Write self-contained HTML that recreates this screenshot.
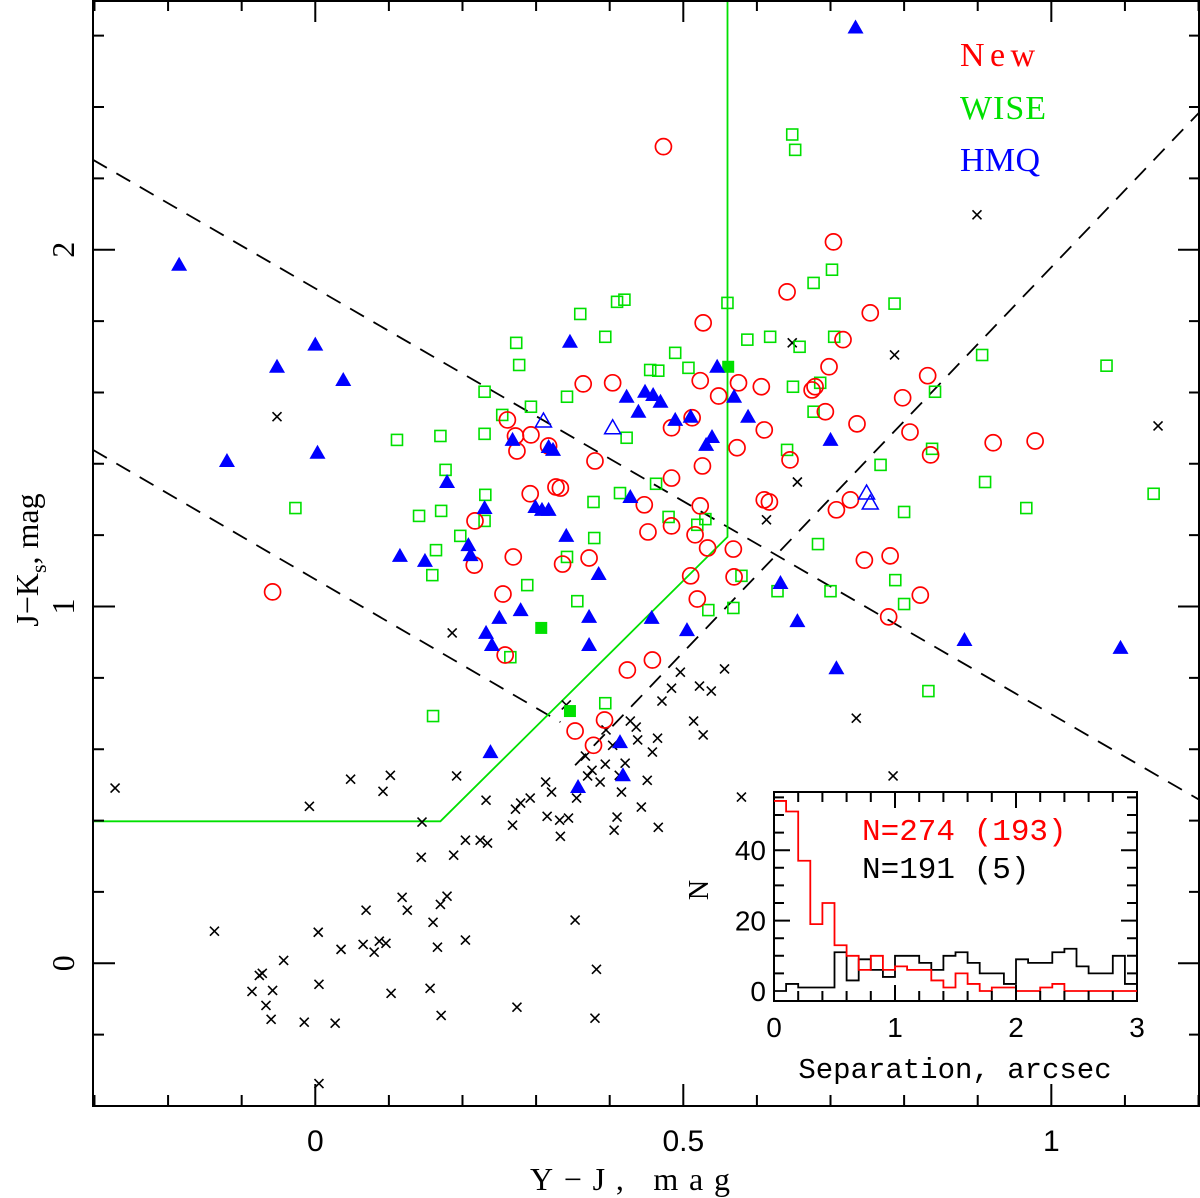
<!DOCTYPE html>
<html><head><meta charset="utf-8"><style>
html,body{margin:0;padding:0;background:#fff}
svg{display:block;font-family:"Liberation Serif",serif}
</style></head><body>
<svg id="chart" width="1200" height="1198" viewBox="0 0 1200 1198" xmlns="http://www.w3.org/2000/svg">
<g id="lines"></g>
<g id="marks"></g>
<g id="axes"></g>
<g id="inset"></g>
<text x="960" y="66" font-size="34" fill="#ff0000" textLength="75">New</text>
<text x="960" y="119" font-size="34" fill="#00e000" textLength="86">WISE</text>
<text x="960" y="171" font-size="34" fill="#0000ff" textLength="80">HMQ</text>
<text x="630" y="1190" font-size="32" text-anchor="middle" textLength="200">Y−J, mag</text>
<text transform="translate(38,560) rotate(-90)" font-size="32" text-anchor="middle">J−K<tspan font-size="22" dy="8">s</tspan><tspan dy="-8">, mag</tspan></text>
</svg>
<script>
const NS="http://www.w3.org/2000/svg";
// main axes
const xTickLabels=["0","0.5","1"], xTickVals=[0,0.5,1];
const yTickLabels=["0","1","2"], yTickVals=[0,1,2];
const hmqX=[0.734,-0.185,0,-0.052,0.038,0.003,-0.12,0.115,0.149,0.346,0.208,0.211,0.179,0.23,0.268,0.308,0.299,0.317,0.317,0.323,0.341,0.385,0.25,0.232,0.24,0.279,0.372,0.372,0.423,0.439,0.448,0.459,0.469,0.489,0.51,0.531,0.539,0.546,0.569,0.588,0.428,0.457,0.505,0.632,0.655,0.708,0.70,0.882,1.094,0.238,0.414,0.418,0.357];
const hmqY=[2.623,1.958,1.734,1.672,1.635,1.431,1.408,1.142,1.128,1.742,1.172,1.144,1.349,1.276,1.467,1.271,1.279,1.271,1.447,1.439,1.198,1.091,0.968,0.926,0.892,0.99,0.971,0.892,1.588,1.546,1.602,1.593,1.574,1.523,1.532,1.453,1.475,1.672,1.588,1.532,1.307,0.968,0.934,1.066,0.959,0.827,1.467,0.906,0.884,0.592,0.62,0.527,0.494];
const hmqOpenX=[0.31,0.404,0.749,0.754];
const hmqOpenY=[1.52,1.501,1.318,1.29];
const wiseFillX=[0.561,0.307,0.346];
const wiseFillY=[1.672,0.94,0.707];
const newX=[0.473,-0.058,0.704,0.527,0.641,0.754,0.717,0.698,0.679,0.693,0.736,0.675,0.832,0.798,0.808,0.836,0.921,0.978,0.364,0.404,0.575,0.606,0.573,0.548,0.523,0.61,0.645,0.512,0.484,0.484,0.447,0.484,0.452,0.526,0.523,0.516,0.327,0.333,0.317,0.272,0.293,0.292,0.274,0.261,0.217,0.216,0.269,0.336,0.372,0.38,0.255,0.258,0.51,0.533,0.568,0.569,0.61,0.617,0.708,0.727,0.746,0.781,0.779,0.822,0.519,0.424,0.458,0.393,0.378,0.353];
const newY=[2.289,1.041,2.022,1.795,1.882,1.823,1.748,1.672,1.616,1.546,1.512,1.607,1.647,1.585,1.489,1.425,1.459,1.464,1.624,1.627,1.627,1.616,1.445,1.59,1.633,1.495,1.411,1.529,1.501,1.36,1.285,1.226,1.209,1.394,1.282,1.201,1.335,1.332,1.45,1.478,1.481,1.316,1.436,1.523,1.24,1.116,1.139,1.119,1.136,1.408,1.035,0.864,1.086,1.164,1.161,1.083,1.299,1.293,1.271,1.299,1.13,1.142,0.971,1.032,1.021,0.822,0.85,0.682,0.611,0.651];
const wiseX=[0.648,0.652,0.36,0.41,0.42,0.394,0.273,0.277,0.23,0.254,0.293,0.342,0.23,0.111,0.17,0.177,0.423,0.455,0.489,0.466,0.507,0.56,0.587,0.618,0.658,0.677,0.702,0.787,0.906,1.075,0.705,0.686,0.649,0.677,0.842,0.768,0.80,0.838,0.91,0.966,1.139,0.683,0.70,0.788,0.80,0.833,0.641,0.378,0.379,0.342,0.356,0.394,0.414,0.463,0.48,0.519,0.53,0.534,0.579,0.568,0.231,0.23,0.197,0.171,0.141,0.164,0.159,0.288,-0.027,0.16,0.265,0.628];
const wiseY=[2.323,2.28,1.82,1.854,1.86,1.756,1.739,1.677,1.602,1.537,1.56,1.588,1.484,1.467,1.478,1.383,1.473,1.663,1.711,1.661,1.669,1.851,1.748,1.756,1.728,1.907,1.944,1.849,1.705,1.675,1.756,1.627,1.616,1.546,1.602,1.397,1.265,1.442,1.349,1.276,1.316,1.175,1.043,1.074,1.007,0.763,1.439,1.293,1.192,1.139,1.015,0.729,1.318,1.344,1.251,1.229,1.245,0.99,1.086,0.996,1.313,1.24,1.198,1.268,1.254,1.158,1.088,1.06,1.276,0.693,0.858,1.043];
const crossX=[-0.052,-0.272,-0.008,0.048,0.186,0.192,0.232,0.272,0.268,0.279,0.313,0.321,0.315,0.333,0.332,0.344,0.355,0.37,0.376,0.387,0.394,0.404,0.413,0.416,0.41,0.406,0.421,0.428,0.438,0.443,0.451,0.458,0.465,0.466,0.471,0.484,0.496,0.514,0.522,0.527,0.538,0.556,0.436,0.395,0.341,0.367,0.292,0.224,0.234,0.188,0.204,0.144,0.145,0.118,0.125,0.17,0.179,0.204,0.16,0.166,0.171,0.156,0.096,0.103,0.087,0.08,0.069,0.065,0.035,0.004,0.005,0.005,-0.015,-0.043,-0.072,-0.076,-0.058,-0.067,-0.06,-0.086,0.027,-0.137,0.274,0.353,0.382,0.38,0.899,0.787,0.648,0.655,0.613,0.735,0.785,0.579,1.145,0.092,0.102];
const crossY=[1.532,0.491,0.44,0.516,0.926,0.525,0.457,0.432,0.387,0.449,0.508,0.48,0.412,0.356,0.401,0.407,0.463,0.525,0.541,0.508,0.558,0.611,0.527,0.48,0.41,0.373,0.561,0.679,0.626,0.438,0.513,0.592,0.631,0.381,0.735,0.771,0.816,0.679,0.777,0.64,0.763,0.825,0.662,0.654,0.724,0.581,0.463,0.345,0.337,0.303,0.345,0.297,0.396,0.185,0.149,0.165,0.188,0.065,0.115,0.045,-0.146,-0.07,0.056,-0.084,0.062,0.031,0.149,0.053,0.039,0.087,-0.059,-0.337,-0.165,0.008,-0.028,-0.034,-0.076,-0.118,-0.157,-0.079,-0.168,0.09,-0.123,0.121,-0.017,-0.154,2.098,1.705,1.739,1.349,1.243,0.687,0.525,0.466,1.506,0.482,0.527];
// inset histogram
const binEdgesStart=0, binWidth=0.1;
const redCounts=[54,51,37,19,25,13,10,6,10,6,7,6,6,3,1,5,2,0,1,1,0,0,1,2,0,0,0,0,0,0];
const blackCounts=[0,2,1,1,1,11,3,9,6,4,10,10,8,6,10,11,8,5,5,2,9,8,8,11,12,7,5,5,10,2];
const insetXTickLabels=["0","1","2","3"], insetXTickVals=[0,1,2,3];
const insetYTickLabels=["0","20","40"], insetYTickVals=[0,20,40];

const X0=93,X1=1200,Y0=0,Y1=1106;
const xmin=-0.302,xmax=1.202,ymin=-0.40,ymax=2.70;
const sx=v=>X0+(v-xmin)/(xmax-xmin)*(X1-X0);
const sy=v=>Y1-(v-ymin)/(ymax-ymin)*(Y1-Y0);
function el(tag,attrs,parent){const e=document.createElementNS(NS,tag);for(const k in attrs)e.setAttribute(k,attrs[k]);parent.appendChild(e);return e;}
const lines=document.getElementById('lines'),marks=document.getElementById('marks'),axes=document.getElementById('axes'),inset=document.getElementById('inset');
function poly(pts,stroke,dash,name){const d=pts.map((p,i)=>(i?'L':'M')+sx(p[0]).toFixed(1)+' '+sy(p[1]).toFixed(1)).join(' ');
 const p=el('path',{d:d,fill:'none',stroke:stroke,'stroke-width':1.8,'stroke-dasharray':dash||'none'},lines);
 
 }
poly([[-0.302,2.252],[1.202,0.457]],'#000','16 11','dashed-boundary-upper');
poly([[-0.302,1.439],[0.333,0.676]],'#000','16 11','dashed-boundary-lower');
poly([[0.353,0.555],[1.202,2.387]],'#000','16 11','dashed-boundary-diagonal');
poly([[-0.302,0.398],[0.17,0.398],[0.56,1.195],[0.56,2.70]],'#00e000',null,'wise-selection-boundary');
crossX.forEach((x,i)=>{const cx=sx(x),cy=sy(crossY[i]),r=4.5;
 const p=el('path',{d:`M${cx-r} ${cy-r}L${cx+r} ${cy+r}M${cx-r} ${cy+r}L${cx+r} ${cy-r}`,stroke:'#000','stroke-width':1.6,fill:'none'},marks);
 
 });
wiseX.forEach((x,i)=>{const cx=sx(x),cy=sy(wiseY[i]);
 const p=el('rect',{x:cx-5.5,y:cy-5.5,width:11,height:11,fill:'none',stroke:'#00e000','stroke-width':1.6},marks);
 
 });
newX.forEach((x,i)=>{const cx=sx(x),cy=sy(newY[i]);
 const p=el('circle',{cx:cx,cy:cy,r:8,fill:'none',stroke:'#ff0000','stroke-width':1.7},marks);
 
 });
wiseFillX.forEach((x,i)=>{const cx=sx(x),cy=sy(wiseFillY[i]);
 const p=el('rect',{x:cx-6,y:cy-6,width:12,height:12,fill:'#00e000'},marks);
 
 });
function tri(cx,cy){return `M${cx-8} ${cy+6}L${cx+8} ${cy+6}L${cx} ${cy-8}Z`;}
hmqX.forEach((x,i)=>{const cx=sx(x),cy=sy(hmqY[i]);
 const p=el('path',{d:tri(cx,cy),fill:'#0000ff'},marks);
 
 });
hmqOpenX.forEach((x,i)=>{const cx=sx(x),cy=sy(hmqOpenY[i]);
 const p=el('path',{d:tri(cx,cy),fill:'none',stroke:'#0000ff','stroke-width':1.5},marks);
 
 });
const fr=el('rect',{x:X0,y:Y0+1,width:X1-X0-1,height:Y1-Y0-1,fill:'none',stroke:'#000','stroke-width':2},axes);


let td='';
for(let k=-3;k<=12;k++){const v=k/10,x=sx(v);if(x<X0+1||x>X1-1)continue;const L=(k%5===0)?22:11;td+=`M${x} ${Y1}V${Y1-L}M${x} ${Y0}V${Y0+L}`;}
for(let k=-2;k<=13;k++){const v=k/5,y=sy(v);if(y<Y0+1||y>Y1-1)continue;const L=(k%5===0)?22:11;td+=`M${X0} ${y}H${X0+L}M${X1} ${y}H${X1-L}`;}
el('path',{d:td,stroke:'#000','stroke-width':2,fill:'none'},axes);
xTickVals.forEach((v,i)=>{const t=el('text',{x:sx(v),y:1151,'font-size':30,'text-anchor':'middle','font-family':'Liberation Sans, sans-serif'},axes);t.textContent=xTickLabels[i];
 
 });
yTickVals.forEach((v,i)=>{const t=el('text',{transform:`translate(74,${sy(v)}) rotate(-90)`,'font-size':32,'text-anchor':'middle'},axes);t.textContent=yTickLabels[i];
 
 });
const IX0=774,IX1=1137,IY0=792,IY1=1001;
const ix=v=>IX0+v*121;
const iy=c=>991-c*3.52;
const bg=el('rect',{x:IX0,y:IY0,width:IX1-IX0,height:IY1-IY0,fill:'#fff',stroke:'#000','stroke-width':2},inset);


function hist(counts,color,name){let d='';counts.forEach((c,i)=>{const a=ix(binEdgesStart+i*binWidth),b=ix(binEdgesStart+(i+1)*binWidth),y=iy(c);d+=(i?'L':'M')+a+' '+y+'L'+b+' '+y;});
 const p=el('path',{d:d,fill:'none',stroke:color,'stroke-width':1.8},inset);
 
 }
hist(blackCounts,'#000','histogram-stars');
hist(redCounts,'#ff0000','histogram-new');
let it='';
for(let k=1;k<15;k++){const x=ix(k*0.2);const L=(k%5===0)?16:10;it+=`M${x} ${IY1}V${IY1-L}M${x} ${IY0}V${IY0+L}`;}
for(let c=5;c<=55;c+=5){const y=iy(c);const L=(c%20===0)?16:10;it+=`M${IX0} ${y}H${IX0+L}M${IX1} ${y}H${IX1-L}`;}
el('path',{d:it,stroke:'#000','stroke-width':2,fill:'none'},inset);
insetXTickVals.forEach((v,i)=>{const t=el('text',{x:ix(v),y:1037,'font-size':28,'text-anchor':'middle','font-family':'Liberation Sans, sans-serif'},inset);t.textContent=insetXTickLabels[i];
 
 });
insetYTickVals.forEach((v,i)=>{const t=el('text',{x:766,y:iy(v)+10,'font-size':28,'text-anchor':'end','font-family':'Liberation Sans, sans-serif'},inset);t.textContent=insetYTickLabels[i];
 
 });
const t1=el('text',{x:955,y:1078,'font-size':29,'text-anchor':'middle','font-family':'Liberation Mono, monospace'},inset);t1.textContent='Separation, arcsec';


const t2=el('text',{transform:'translate(708,890) rotate(-90)','font-size':28,'text-anchor':'middle'},inset);t2.textContent='N';


const t3=el('text',{x:862,y:840,'font-size':31,fill:'#ff0000','font-family':'Liberation Mono, monospace'},inset);t3.textContent='N=274 (193)';


const t4=el('text',{x:862,y:878,'font-size':31,fill:'#000','font-family':'Liberation Mono, monospace'},inset);t4.textContent='N=191 (5)';


</script>
</body></html>
